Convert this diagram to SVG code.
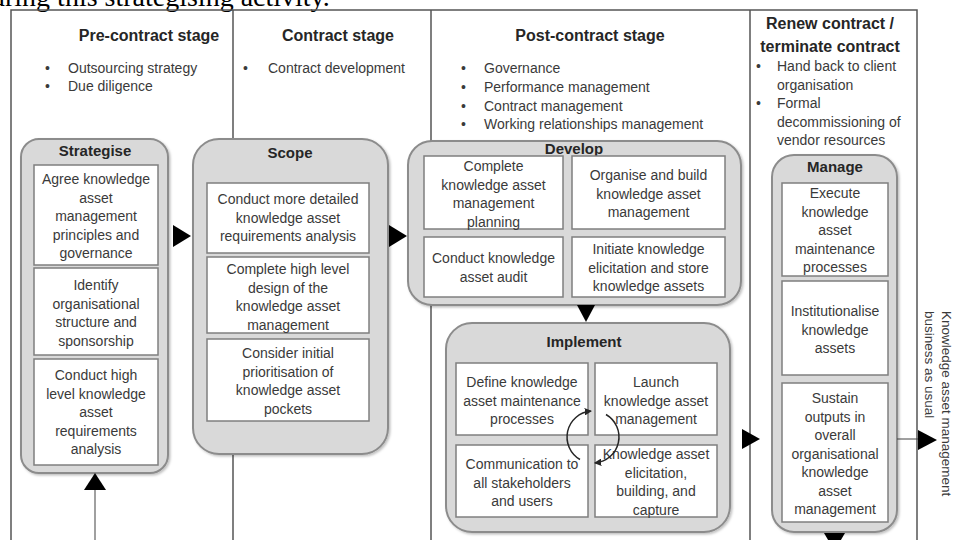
<svg xmlns="http://www.w3.org/2000/svg" width="954" height="540" viewBox="0 0 954 540">
<defs>
<style>
text{font-family:"Liberation Sans",Arial,sans-serif;fill:#3a3a3a}
.t{font-size:14px;text-anchor:middle}
.lbl{font-size:15px;font-weight:bold;text-anchor:middle;fill:#262626}
.hdr{font-size:16px;font-weight:bold;text-anchor:middle;fill:#262626}
.bul{font-size:14px}
.vt{font-size:13.5px}
.cap{font-family:"Liberation Serif","Times New Roman",serif;font-size:28px;fill:#000}
.frame{stroke:#555;stroke-width:1.5;fill:none}
.outer{fill:#d9d9d9;stroke:#8c8c8c;stroke-width:2;filter:url(#sh)}
.inner{fill:#fff;stroke:#7f7f7f;stroke-width:1.5}
.tri{fill:#000}
.cyc{fill:none;stroke:#262626;stroke-width:1.5;marker-end:url(#ah)}
</style>
<filter id="sh" x="-5%" y="-5%" width="115%" height="115%"><feDropShadow dx="1.5" dy="1.5" stdDeviation="1" flood-color="#000" flood-opacity="0.25"/></filter>
<marker id="ah" viewBox="0 0 10 10" refX="8" refY="5" markerWidth="5" markerHeight="5" orient="auto" markerUnits="strokeWidth"><path d="M0,0 L10,5 L0,10 z" fill="#262626"/></marker>
</defs>
<rect width="954" height="540" fill="#fff"/>
<text class="cap" x="-23" y="5.5">during this strategising activity.</text>

<g id="stages">
<path class="frame" d="M11,540 V10 H917 V540 M233,10 V540 M431,10 V540 M750,10 V540"/>
<text class="hdr" x="149" y="40.5">Pre-contract stage</text>
<text class="bul" x="45" y="73">•</text><text class="bul" x="68" y="73">Outsourcing strategy</text>
<text class="bul" x="45" y="91">•</text><text class="bul" x="68" y="91">Due diligence</text>
<text class="hdr" x="338" y="40.5">Contract stage</text>
<text class="bul" x="243" y="73">•</text><text class="bul" x="268" y="73">Contract development</text>
<text class="hdr" x="590" y="40.5">Post-contract stage</text>
<text class="bul" x="461" y="73">•</text><text class="bul" x="484" y="73">Governance</text>
<text class="bul" x="461" y="92">•</text><text class="bul" x="484" y="92">Performance management</text>
<text class="bul" x="461" y="111">•</text><text class="bul" x="484" y="111">Contract management</text>
<text class="bul" x="461" y="129">•</text><text class="bul" x="484" y="129">Working relationships management</text>
<text class="hdr" x="830" y="29">Renew contract /</text>
<text class="hdr" x="830" y="52">terminate contract</text>
<text class="bul" x="756" y="71">•</text><text class="bul" x="777" y="71">Hand back to client</text>
<text class="bul" x="777" y="89.5">organisation</text>
<text class="bul" x="756" y="108">•</text><text class="bul" x="777" y="108">Formal</text>
<text class="bul" x="777" y="126.5">decommissioning of</text>
<text class="bul" x="777" y="145">vendor resources</text>
</g>

<g id="strategise">
<rect class="outer" x="21" y="139" width="147" height="334" rx="18"/>
<text class="lbl" x="95" y="156">Strategise</text>
<rect class="inner" x="34" y="165" width="124" height="100"/>
<text class="t"><tspan x="96" y="184">Agree knowledge</tspan><tspan x="96" y="202.5">asset</tspan><tspan x="96" y="221">management</tspan><tspan x="96" y="239.5">principles and</tspan><tspan x="96" y="258">governance</tspan></text>
<rect class="inner" x="34" y="268" width="124" height="87"/>
<text class="t"><tspan x="96" y="290">Identify</tspan><tspan x="96" y="308.5">organisational</tspan><tspan x="96" y="327">structure and</tspan><tspan x="96" y="345.5">sponsorship</tspan></text>
<rect class="inner" x="34" y="359" width="124" height="106"/>
<text class="t"><tspan x="96" y="380">Conduct high</tspan><tspan x="96" y="398.5">level knowledge</tspan><tspan x="96" y="417">asset</tspan><tspan x="96" y="435.5">requirements</tspan><tspan x="96" y="454">analysis</tspan></text>
</g>

<g id="scope">
<rect class="outer" x="193" y="139" width="195" height="315" rx="26"/>
<text class="lbl" x="290" y="158">Scope</text>
<rect class="inner" x="207" y="183" width="162" height="70"/>
<text class="t"><tspan x="288" y="204">Conduct more detailed</tspan><tspan x="288" y="222.5">knowledge asset</tspan><tspan x="288" y="241">requirements analysis</tspan></text>
<rect class="inner" x="207" y="257" width="162" height="76"/>
<text class="t"><tspan x="288" y="274">Complete high level</tspan><tspan x="288" y="292.5">design of the</tspan><tspan x="288" y="311">knowledge asset</tspan><tspan x="288" y="329.5">management</tspan></text>
<rect class="inner" x="207" y="339" width="162" height="82"/>
<text class="t"><tspan x="288" y="358">Consider initial</tspan><tspan x="288" y="376.5">prioritisation of</tspan><tspan x="288" y="395">knowledge asset</tspan><tspan x="288" y="413.5">pockets</tspan></text>
</g>

<g id="develop">
<rect class="outer" x="408" y="141" width="333" height="164" rx="24"/>
<text class="lbl" x="574" y="154">Develop</text>
<rect class="inner" x="424" y="156" width="139" height="73"/>
<text class="t"><tspan x="493.5" y="171">Complete</tspan><tspan x="493.5" y="189.5">knowledge asset</tspan><tspan x="493.5" y="208">management</tspan><tspan x="493.5" y="226.5">planning</tspan></text>
<rect class="inner" x="572" y="156" width="153" height="73"/>
<text class="t"><tspan x="648.5" y="180">Organise and build</tspan><tspan x="648.5" y="198.5">knowledge asset</tspan><tspan x="648.5" y="217">management</tspan></text>
<rect class="inner" x="424" y="237" width="139" height="60"/>
<text class="t"><tspan x="493.5" y="263">Conduct knowledge</tspan><tspan x="493.5" y="281.5">asset audit</tspan></text>
<rect class="inner" x="572" y="237" width="153" height="60"/>
<text class="t"><tspan x="648.5" y="254">Initiate knowledge</tspan><tspan x="648.5" y="272.5">elicitation and store</tspan><tspan x="648.5" y="291">knowledge assets</tspan></text>
</g>

<g id="implement">
<rect class="outer" x="446" y="323" width="284" height="209" rx="26"/>
<text class="lbl" x="584" y="347">Implement</text>
<rect class="inner" x="456" y="363" width="132" height="72"/>
<text class="t"><tspan x="522" y="387">Define knowledge</tspan><tspan x="522" y="405.5">asset maintenance</tspan><tspan x="522" y="424">processes</tspan></text>
<rect class="inner" x="595" y="363" width="122" height="72"/>
<text class="t"><tspan x="656" y="387">Launch</tspan><tspan x="656" y="405.5">knowledge asset</tspan><tspan x="656" y="424">management</tspan></text>
<rect class="inner" x="456" y="445" width="132" height="72"/>
<text class="t"><tspan x="522" y="469">Communication to</tspan><tspan x="522" y="487.5">all stakeholders</tspan><tspan x="522" y="506">and users</tspan></text>
<rect class="inner" x="595" y="445" width="122" height="72"/>
<text class="t"><tspan x="656" y="459">Knowledge asset</tspan><tspan x="656" y="477.5">elicitation,</tspan><tspan x="656" y="496">building,  and</tspan><tspan x="656" y="514.5">capture</tspan></text>
</g>

<g id="manage">
<rect class="outer" x="772" y="155" width="125" height="377" rx="22"/>
<text class="lbl" x="835" y="172">Manage</text>
<rect class="inner" x="782" y="183" width="106" height="93"/>
<text class="t"><tspan x="835" y="198">Execute</tspan><tspan x="835" y="216.5">knowledge</tspan><tspan x="835" y="235">asset</tspan><tspan x="835" y="253.5">maintenance</tspan><tspan x="835" y="272">processes</tspan></text>
<rect class="inner" x="782" y="281" width="106" height="94"/>
<text class="t"><tspan x="835" y="316">Institutionalise</tspan><tspan x="835" y="334.5">knowledge</tspan><tspan x="835" y="353">assets</tspan></text>
<rect class="inner" x="782" y="383" width="106" height="139"/>
<text class="t"><tspan x="835" y="403">Sustain</tspan><tspan x="835" y="421.5">outputs in</tspan><tspan x="835" y="440">overall</tspan><tspan x="835" y="458.5">organisational</tspan><tspan x="835" y="477">knowledge</tspan><tspan x="835" y="495.5">asset</tspan><tspan x="835" y="514">management</tspan></text>
</g>

<g id="bau">
<text class="vt" transform="translate(942,311) rotate(90)">Knowledge asset management</text>
<text class="vt" transform="translate(925,311) rotate(90)">business as usual</text>
</g>

<g id="connectors">
<polygon class="tri" points="173,225 191,236 173,247"/>
<polygon class="tri" points="389,225 407,236 389,247"/>
<polygon class="tri" points="577,305 595,305 586,322"/>
<polygon class="tri" points="742,429 760,439 742,449"/>
<line x1="95" y1="490" x2="95" y2="540" stroke="#a0a0a0" stroke-width="2"/>
<polygon class="tri" points="84,490 106,490 95,473"/>
<polygon class="tri" points="824,533 845,533 834.5,551"/>
<line x1="897" y1="439" x2="918" y2="439" stroke="#404040" stroke-width="1"/>
<polygon class="tri" points="918,430 937,440 918,450"/>
<path class="cyc" d="M580,459.5 A26,26 0 0 1 590.7,411.1"/>
<path class="cyc" d="M606,414.5 A26,26 0 0 1 595.3,462.9"/>
</g>
</svg>
